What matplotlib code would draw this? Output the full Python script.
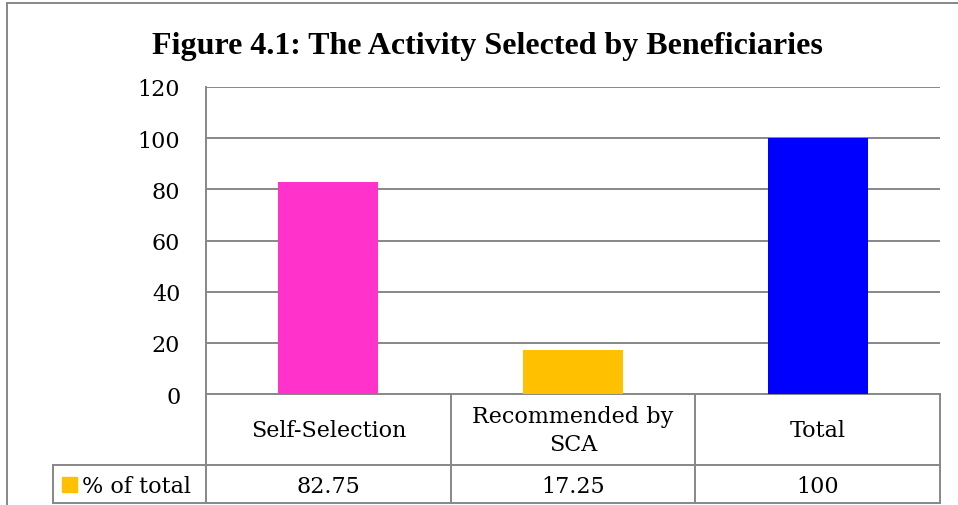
import matplotlib.pyplot as plt
from matplotlib.patches import Rectangle

# data
categories = ['Self-Selection', 'Recommended by\nSCA', 'Total']
values = [82.75, 17.25, 100]
value_labels = ['82.75', '17.25', '100']
bar_colors = ['#FF33CC', '#FFC000', '#0000FF']
series_name = '% of total'
series_color = '#FFC000'
title = 'Figure 4.1: The Activity Selected by Beneficiaries'

W, H = 958, 506
line_col = '#878787'
font = 'DejaVu Serif'

fig = plt.figure(figsize=(W / 100, H / 100), dpi=100)

# plot area in pixel coordinates
left, right, top, bottom = 206, 940, 88, 395
ax = fig.add_axes([left / W, 1 - bottom / H, (right - left) / W, (bottom - top) / H])
ax.bar(range(len(values)), values, width=0.41, color=bar_colors, zorder=3)
ax.set_xlim(-0.5, len(values) - 0.5)
ax.set_ylim(0, 120)
ax.set_yticks(range(0, 121, 20))
ax.set_xticks([])
ax.yaxis.grid(True, color=line_col, linewidth=1.4)
ax.set_axisbelow(True)
for s in ['top', 'right', 'bottom']:
    ax.spines[s].set_visible(False)
ax.spines['left'].set_color(line_col)
ax.spines['left'].set_linewidth(1.4)
ax.tick_params(axis='y', length=0, pad=18.5, labelsize=16)
for lb in ax.get_yticklabels():
    lb.set_fontfamily(font)

# overlay in pixels for table and border
ov = fig.add_axes([0, 0, 1, 1], zorder=-1)
ov.set_xlim(0, W)
ov.set_ylim(H, 0)
ov.axis('off')

kw = dict(color=line_col, linewidth=1.4)
# outer chart border
ov.plot([7, 7], [4, H], **kw)
ov.plot([7, W], [4, 4], **kw)

# data table grid
row1, row2, row3 = 395, 466, 504
cols = [left + i * (right - left) / len(values) for i in range(len(values) + 1)]
ov.plot([left, left], [row1, row3], **kw)
for x in cols[1:]:
    ov.plot([x, x], [row1, row3], **kw)
ov.plot([53, 53], [row2, row3], **kw)
ov.plot([left, right], [row1, row1], **kw)
ov.plot([53, right], [row2, row2], **kw)
ov.plot([53, right], [row3, row3], **kw)

for i, (cat, lab) in enumerate(zip(categories, value_labels)):
    cx = (cols[i] + cols[i + 1]) / 2
    ov.text(cx, 431, cat, ha='center', va='center',
            fontsize=16, family=font, linespacing=1.4)
    ov.text(cx, 487, lab, ha='center', va='center',
            fontsize=16, family=font)

ov.add_patch(Rectangle((62, 478), 15, 15, color=series_color))
ov.text(82, 487, series_name, ha='left', va='center',
        fontsize=16, family=font)

fig.text(487 / W, 1 - 54 / H, title, ha='center', va='baseline',
         fontsize=23, fontweight='bold', family='Liberation Serif')

fig.savefig('out.png', dpi=100)
